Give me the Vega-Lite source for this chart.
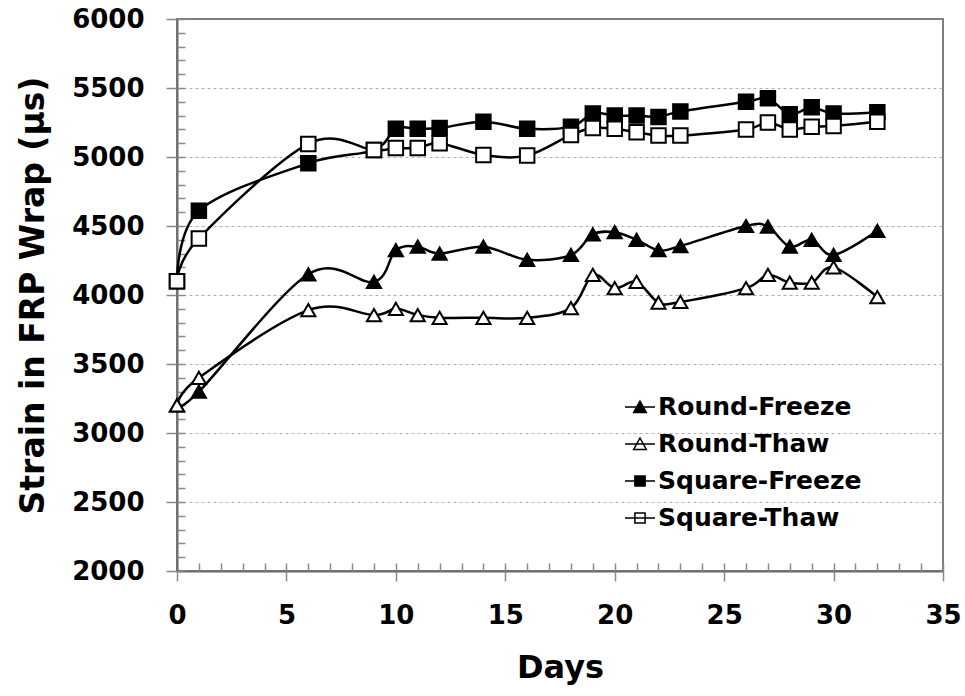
{
  "$schema": "https://vega.github.io/schema/vega-lite/v6.json",
  "width": 766,
  "height": 552,
  "autosize": {"type": "none"},
  "padding": {"left": 177, "top": 19, "right": 22, "bottom": 125},
  "background": "white",
  "config": {
    "font": "DejaVu Sans",
    "view": {"stroke": "#7f7f7f", "strokeWidth": 2},
    "axis": {"labelFontWeight": "bold", "titleFontWeight": "bold", "labelColor": "black", "titleColor": "black", "domainColor": "#6b6b6b", "domainWidth": 2, "tickColor": "#8a8a8a", "tickWidth": 1.5, "labelFlush": false}
  },
  "data": {
    "values": [
      {"day": 0, "series": "Round-Freeze", "strain": 3200},
      {"day": 1, "series": "Round-Freeze", "strain": 3300},
      {"day": 6, "series": "Round-Freeze", "strain": 4150},
      {"day": 9, "series": "Round-Freeze", "strain": 4095},
      {"day": 10, "series": "Round-Freeze", "strain": 4325},
      {"day": 11, "series": "Round-Freeze", "strain": 4350},
      {"day": 12, "series": "Round-Freeze", "strain": 4300},
      {"day": 14, "series": "Round-Freeze", "strain": 4350},
      {"day": 16, "series": "Round-Freeze", "strain": 4255},
      {"day": 18, "series": "Round-Freeze", "strain": 4290},
      {"day": 19, "series": "Round-Freeze", "strain": 4440},
      {"day": 20, "series": "Round-Freeze", "strain": 4455},
      {"day": 21, "series": "Round-Freeze", "strain": 4400},
      {"day": 22, "series": "Round-Freeze", "strain": 4325},
      {"day": 23, "series": "Round-Freeze", "strain": 4355},
      {"day": 26, "series": "Round-Freeze", "strain": 4500},
      {"day": 27, "series": "Round-Freeze", "strain": 4495},
      {"day": 28, "series": "Round-Freeze", "strain": 4350},
      {"day": 29, "series": "Round-Freeze", "strain": 4400},
      {"day": 30, "series": "Round-Freeze", "strain": 4290},
      {"day": 32, "series": "Round-Freeze", "strain": 4465},
      {"day": 0, "series": "Round-Thaw", "strain": 3200},
      {"day": 1, "series": "Round-Thaw", "strain": 3400},
      {"day": 6, "series": "Round-Thaw", "strain": 3890},
      {"day": 9, "series": "Round-Thaw", "strain": 3855},
      {"day": 10, "series": "Round-Thaw", "strain": 3900},
      {"day": 11, "series": "Round-Thaw", "strain": 3855},
      {"day": 12, "series": "Round-Thaw", "strain": 3835},
      {"day": 14, "series": "Round-Thaw", "strain": 3835},
      {"day": 16, "series": "Round-Thaw", "strain": 3835},
      {"day": 18, "series": "Round-Thaw", "strain": 3905},
      {"day": 19, "series": "Round-Thaw", "strain": 4145},
      {"day": 20, "series": "Round-Thaw", "strain": 4050},
      {"day": 21, "series": "Round-Thaw", "strain": 4095},
      {"day": 22, "series": "Round-Thaw", "strain": 3945},
      {"day": 23, "series": "Round-Thaw", "strain": 3950},
      {"day": 26, "series": "Round-Thaw", "strain": 4050},
      {"day": 27, "series": "Round-Thaw", "strain": 4145},
      {"day": 28, "series": "Round-Thaw", "strain": 4090},
      {"day": 29, "series": "Round-Thaw", "strain": 4090},
      {"day": 30, "series": "Round-Thaw", "strain": 4200},
      {"day": 32, "series": "Round-Thaw", "strain": 3985},
      {"day": 0, "series": "Square-Freeze", "strain": 4100},
      {"day": 1, "series": "Square-Freeze", "strain": 4610},
      {"day": 6, "series": "Square-Freeze", "strain": 4955},
      {"day": 9, "series": "Square-Freeze", "strain": 5050},
      {"day": 10, "series": "Square-Freeze", "strain": 5205},
      {"day": 11, "series": "Square-Freeze", "strain": 5205},
      {"day": 12, "series": "Square-Freeze", "strain": 5210},
      {"day": 14, "series": "Square-Freeze", "strain": 5255},
      {"day": 16, "series": "Square-Freeze", "strain": 5205},
      {"day": 18, "series": "Square-Freeze", "strain": 5220},
      {"day": 19, "series": "Square-Freeze", "strain": 5315},
      {"day": 20, "series": "Square-Freeze", "strain": 5300},
      {"day": 21, "series": "Square-Freeze", "strain": 5300},
      {"day": 22, "series": "Square-Freeze", "strain": 5290},
      {"day": 23, "series": "Square-Freeze", "strain": 5330},
      {"day": 26, "series": "Square-Freeze", "strain": 5400},
      {"day": 27, "series": "Square-Freeze", "strain": 5425},
      {"day": 28, "series": "Square-Freeze", "strain": 5310},
      {"day": 29, "series": "Square-Freeze", "strain": 5360},
      {"day": 30, "series": "Square-Freeze", "strain": 5315},
      {"day": 32, "series": "Square-Freeze", "strain": 5325},
      {"day": 0, "series": "Square-Thaw", "strain": 4100},
      {"day": 1, "series": "Square-Thaw", "strain": 4410},
      {"day": 6, "series": "Square-Thaw", "strain": 5095},
      {"day": 9, "series": "Square-Thaw", "strain": 5050},
      {"day": 10, "series": "Square-Thaw", "strain": 5065},
      {"day": 11, "series": "Square-Thaw", "strain": 5065},
      {"day": 12, "series": "Square-Thaw", "strain": 5100},
      {"day": 14, "series": "Square-Thaw", "strain": 5015},
      {"day": 16, "series": "Square-Thaw", "strain": 5010},
      {"day": 18, "series": "Square-Thaw", "strain": 5160},
      {"day": 19, "series": "Square-Thaw", "strain": 5210},
      {"day": 20, "series": "Square-Thaw", "strain": 5205},
      {"day": 21, "series": "Square-Thaw", "strain": 5180},
      {"day": 22, "series": "Square-Thaw", "strain": 5155},
      {"day": 23, "series": "Square-Thaw", "strain": 5155},
      {"day": 26, "series": "Square-Thaw", "strain": 5200},
      {"day": 27, "series": "Square-Thaw", "strain": 5250},
      {"day": 28, "series": "Square-Thaw", "strain": 5200},
      {"day": 29, "series": "Square-Thaw", "strain": 5220},
      {"day": 30, "series": "Square-Thaw", "strain": 5225},
      {"day": 32, "series": "Square-Thaw", "strain": 5255}
    ]
  },
  "layer": [
    {
      "mark": {"type": "line", "interpolate": "cardinal", "color": "black", "strokeWidth": 2.5},
      "encoding": {
        "x": {"field": "day", "type": "quantitative", "scale": {"domain": [0, 35], "nice": false},
          "axis": {"orient": "bottom", "values": [0, 5, 10, 15, 20, 25, 30, 35], "format": "d", "tickSize": 10, "labelFontSize": 26, "labelPadding": 21, "title": "Days", "titleFontSize": 32, "titlePadding": 24, "grid": false}},
        "y": {"field": "strain", "type": "quantitative", "scale": {"domain": [2000, 6000], "nice": false},
          "axis": {"orient": "left", "values": [2000, 2500, 3000, 3500, 4000, 4500, 5000, 5500, 6000], "format": "d", "tickSize": 11, "labelFontSize": 26, "labelPadding": 22, "title": "Strain in FRP Wrap (μs)", "titleFontSize": 33, "titlePadding": 21,
            "grid": true, "gridColor": "#b0b0b0", "gridDash": [3, 3], "gridWidth": 1,
            "gridOpacity": {"condition": {"test": "datum.value === 2000 || datum.value === 6000", "value": 0}, "value": 1}}},
        "detail": {"field": "series"}
      }
    },
    {
      "mark": {"type": "point", "filled": false, "stroke": "black", "strokeWidth": 2, "opacity": 1},
      "encoding": {
        "x": {"field": "day", "type": "quantitative",
          "axis": {"orient": "bottom", "values": [0,1,2,3,4,5,6,7,8,9,10,11,12,13,14,15,16,17,18,19,20,21,22,23,24,25,26,27,28,29,30,31,32,33,34,35], "tickSize": -8, "labels": false, "domain": false, "title": null, "grid": false}},
        "y": {"field": "strain", "type": "quantitative",
          "axis": {"orient": "left", "values": [2000,2100,2200,2300,2400,2500,2600,2700,2800,2900,3000,3100,3200,3300,3400,3500,3600,3700,3800,3900,4000,4100,4200,4300,4400,4500,4600,4700,4800,4900,5000,5100,5200,5300,5400,5500,5600,5700,5800,5900,6000], "tickSize": -8, "labels": false, "domain": false, "title": null, "grid": false}},
        "shape": {"field": "series", "type": "nominal", "legend": null,
          "scale": {"domain": ["Round-Freeze", "Round-Thaw", "Square-Freeze", "Square-Thaw"], "range": ["triangle-up", "triangle-up", "square", "square"]}},
        "fill": {"field": "series", "type": "nominal", "legend": null,
          "scale": {"domain": ["Round-Freeze", "Round-Thaw", "Square-Freeze", "Square-Thaw"], "range": ["black", "white", "black", "white"]}},
        "size": {"condition": {"test": "indexof(datum.series, 'Round') === 0", "value": 200}, "value": 210}
      }
    },
    {
      "transform": [{"filter": "datum.day < 0"}],
      "mark": {"type": "point", "filled": true, "stroke": "black", "strokeWidth": 2, "opacity": 1},
      "encoding": {
        "x": {"field": "day", "type": "quantitative", "axis": null},
        "y": {"field": "strain", "type": "quantitative", "axis": null},
        "shape": {"field": "series", "type": "nominal",
          "scale": {"domain": ["Round-Freeze", "Round-Thaw", "Square-Freeze", "Square-Thaw"],
            "range": ["M-1,0H1M-0.42,0.36L0,-0.4L0.42,0.36Z", "M-1,0H1M-0.42,0.36L0,-0.4L0.42,0.36Z", "M-1,0H1M-0.34,-0.34H0.34V0.34H-0.34Z", "M-1,0H1M-0.34,-0.34H0.34V0.34H-0.34Z"]},
          "legend": {"title": null, "orient": "none", "legendX": 447, "legendY": 372, "symbolSize": 900, "labelFontSize": 25, "labelFontWeight": "bold", "labelColor": "black", "labelOffset": 2, "rowPadding": 8, "labelLimit": 400,
            "encode": {"symbols": {"update": {"stroke": {"value": "black"}, "strokeWidth": {"value": 2}, "opacity": {"value": 1}}}}}},
        "fill": {"field": "series", "type": "nominal",
          "scale": {"domain": ["Round-Freeze", "Round-Thaw", "Square-Freeze", "Square-Thaw"], "range": ["black", "white", "black", "white"]},
          "legend": {"title": null, "orient": "none", "legendX": 447, "legendY": 372, "symbolSize": 900, "labelFontSize": 25, "labelFontWeight": "bold", "labelColor": "black", "labelOffset": 2, "rowPadding": 8, "labelLimit": 400,
            "encode": {"symbols": {"update": {"stroke": {"value": "black"}, "strokeWidth": {"value": 2}, "opacity": {"value": 1}}}}}}
      }
    }
  ],
  "resolve": {"axis": {"x": "independent", "y": "independent"}, "scale": {"shape": "independent", "fill": "independent"}}
}
